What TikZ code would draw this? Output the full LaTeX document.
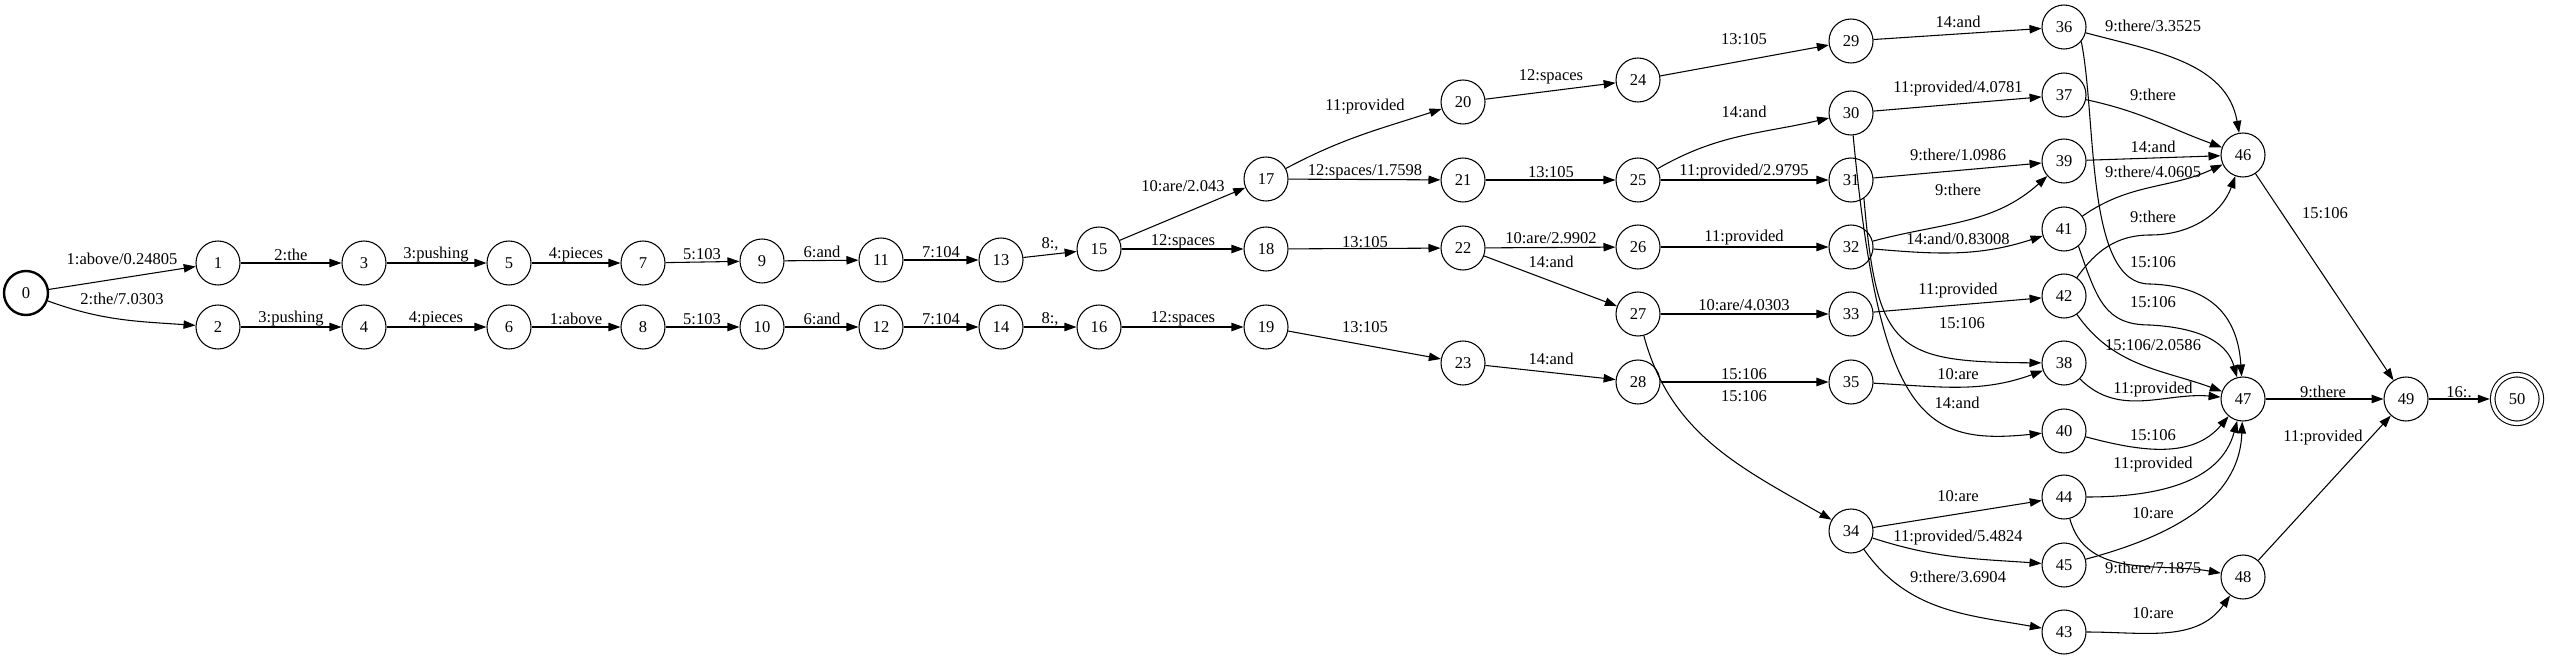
\documentclass[tikz,border=0pt]{standalone}
\usepackage{fontspec}
\setmainfont{Liberation Serif}
\usetikzlibrary{arrows.meta}
\begin{document}
\begin{tikzpicture}[x=0.75pt,y=-0.75pt,
  st/.style={circle,draw,line width=0.8pt,minimum size=33pt,inner sep=0pt,font=\fontsize{12.4}{14}\selectfont},
  e/.style={line width=0.8pt,-{Triangle[length=9pt,width=6.3pt]}},
  lbl/.style={font=\fontsize{12.4}{14}\selectfont,inner sep=0pt}]
\useasboundingbox (0,0) rectangle (2550,660);
% states
\node[st,line width=1.8pt] (0) at (26,293) {0};
\node[st] (1) at (218,263) {1};
\node[st] (2) at (218,327) {2};
\node[st] (3) at (364,263) {3};
\node[st] (4) at (364,327) {4};
\node[st] (5) at (509,263) {5};
\node[st] (6) at (509,327) {6};
\node[st] (7) at (643,263) {7};
\node[st] (8) at (643,327) {8};
\node[st] (9) at (762,261) {9};
\node[st] (10) at (762,327) {10};
\node[st] (11) at (881,260) {11};
\node[st] (12) at (881,327) {12};
\node[st] (13) at (1001,260) {13};
\node[st] (14) at (1001,327) {14};
\node[st] (15) at (1099,249) {15};
\node[st] (16) at (1099,327) {16};
\node[st] (17) at (1266,179) {17};
\node[st] (18) at (1266,249) {18};
\node[st] (19) at (1266,327) {19};
\node[st] (20) at (1463,102) {20};
\node[st] (21) at (1463,180) {21};
\node[st] (22) at (1463,248) {22};
\node[st] (23) at (1463,363) {23};
\node[st] (24) at (1638,80) {24};
\node[st] (25) at (1638,180) {25};
\node[st] (26) at (1638,247) {26};
\node[st] (27) at (1638,314) {27};
\node[st] (28) at (1638,382) {28};
\node[st] (29) at (1851,41) {29};
\node[st] (30) at (1851,113) {30};
\node[st] (31) at (1851,180) {31};
\node[st] (32) at (1851,247) {32};
\node[st] (33) at (1851,314) {33};
\node[st] (35) at (1851,382) {35};
\node[st] (34) at (1851,531) {34};
\node[st] (36) at (2064,27) {36};
\node[st] (37) at (2064,95) {37};
\node[st] (39) at (2064,161) {39};
\node[st] (41) at (2064,229) {41};
\node[st] (42) at (2064,296) {42};
\node[st] (38) at (2064,363) {38};
\node[st] (40) at (2064,431) {40};
\node[st] (44) at (2064,497) {44};
\node[st] (45) at (2064,565) {45};
\node[st] (43) at (2064,632) {43};
\node[st] (46) at (2243,155) {46};
\node[st] (47) at (2243,399) {47};
\node[st] (48) at (2243,577) {48};
\node[st] (49) at (2406,399) {49};
\node[st,minimum size=36.5pt,double,double distance=2.6pt,outer sep=2.2pt] (50) at (2517,399) {50};
% transitions
\draw[e] (0) -- (1) node[lbl,at={(122,259)}]{1:above/0.24805};
\draw[e] (0) to[out=-20,in=176] (2) node[lbl,at={(122,299)}]{2:the/7.0303};
\draw[e] (1) -- (3) node[lbl,at={(291,255)}]{2:the};
\draw[e] (3) -- (5) node[lbl,at={(436,255)}]{3:pushing};
\draw[e] (5) -- (7) node[lbl,at={(576,255)}]{4:pieces};
\draw[e] (7) -- (9) node[lbl,at={(702,254)}]{5:103};
\draw[e] (9) -- (11) node[lbl,at={(822,252)}]{6:and};
\draw[e] (11) -- (13) node[lbl,at={(941,252)}]{7:104};
\draw[e] (13) -- (15) node[lbl,at={(1050,244)}]{8:,};
\draw[e] (2) -- (4) node[lbl,at={(291,319)}]{3:pushing};
\draw[e] (4) -- (6) node[lbl,at={(436,319)}]{4:pieces};
\draw[e] (6) -- (8) node[lbl,at={(576,319)}]{1:above};
\draw[e] (8) -- (10) node[lbl,at={(702,319)}]{5:103};
\draw[e] (10) -- (12) node[lbl,at={(822,319)}]{6:and};
\draw[e] (12) -- (14) node[lbl,at={(941,319)}]{7:104};
\draw[e] (14) -- (16) node[lbl,at={(1050,319)}]{8:,};
\draw[e] (15) -- (17) node[lbl,at={(1183,186)}]{10:are/2.043};
\draw[e] (15) -- (18) node[lbl,at={(1183,242)}]{12:spaces};
\draw[e] (16) -- (19) node[lbl,at={(1183,319)}]{12:spaces};
\draw[e] (17) to[out=28,in=-162] (20) node[lbl,at={(1365,107)}]{11:provided};
\draw[e] (17) -- (21) node[lbl,at={(1365,172)}]{12:spaces/1.7598};
\draw[e] (18) -- (22) node[lbl,at={(1365,242)}]{13:105};
\draw[e] (19) -- (23) node[lbl,at={(1365,327)}]{13:105};
\draw[e] (20) -- (24) node[lbl,at={(1551,77)}]{12:spaces};
\draw[e] (21) -- (25) node[lbl,at={(1551,172)}]{13:105};
\draw[e] (22) -- (26) node[lbl,at={(1551,238)}]{10:are/2.9902};
\draw[e] (22) -- (27) node[lbl,at={(1551,262)}]{14:and};
\draw[e] (23) -- (28) node[lbl,at={(1551,359)}]{14:and};
\draw[e] (24) -- (29) node[lbl,at={(1744,39)}]{13:105};
\draw[e] (25) to[out=30,in=-167] (30) node[lbl,at={(1744,112)}]{14:and};
\draw[e] (25) -- (31) node[lbl,at={(1744,172)}]{11:provided/2.9795};
\draw[e] (26) -- (32) node[lbl,at={(1744,238)}]{11:provided};
\draw[e] (27) -- (33) node[lbl,at={(1744,305)}]{10:are/4.0303};
\draw[e] (28) -- (35) node[lbl,at={(1744,374)}]{15:106};
\draw[e] (27) to[out=-75,in=150] (34) node[lbl,at={(1744,396)}]{15:106};
\draw[e] (29) -- (36) node[lbl,at={(1958,22)}]{14:and};
\draw[e] (30) -- (37) node[lbl,at={(1958,89)}]{11:provided/4.0781};
\draw[e] (31) -- (39) node[lbl,at={(1958,155)}]{9:there/1.0986};
\draw[e] (32) to[out=15,in=-138] (39) node[lbl,at={(1958,190)}]{9:there};
\draw[e] (32) to[out=-5,in=-162] (41) node[lbl,at={(1958,239)}]{14:and/0.83008};
\draw[e] (33) -- (42) node[lbl,at={(1958,291)}]{11:provided};
\draw[e] (31.-55) .. controls (1877,350) and (1895,362) .. (38) node[lbl,at={(1962,323)}]{15:106};
\draw[e] (30) .. controls (1880,420) and (1925,445) .. (40) node[lbl,at={(1957,403)}]{14:and};
\draw[e] (35) to[out=-3,in=-160] (38) node[lbl,at={(1958,374)}]{10:are};
\draw[e] (34) -- (44) node[lbl,at={(1958,496)}]{10:are};
\draw[e] (34) to[out=-18,in=176] (45) node[lbl,at={(1958,538)}]{11:provided/5.4824};
\draw[e] (34) to[out=-55,in=170] (43) node[lbl,at={(1958,577)}]{9:there/3.6904};
\draw[e] (36) to[out=-15,in=100] (46) node[lbl,at={(2153,26)}]{9:there/3.3525};
\draw[e] (37) to[out=-12,in=160] (46) node[lbl,at={(2153,95)}]{9:there};
\draw[e] (39) -- (46) node[lbl,at={(2153,147)}]{14:and};
\draw[e] (41) to[out=35,in=-155] (46) node[lbl,at={(2153,172)}]{9:there/4.0605};
\draw[e] (42) to[out=55,in=180] (2150,235) to[out=0,in=-110] (46) node[lbl,at={(2153,217)}]{9:there};
\draw[e] (36.-40) .. controls (2097,120) and (2085,285) .. (2150,284) .. controls (2215,286) and (2238,320) .. (47) node[lbl,at={(2153,262)}]{15:106};
\draw[e] (41.-50) .. controls (2097,300) and (2105,325) .. (2150,325) .. controls (2205,328) and (2228,345) .. (47) node[lbl,at={(2153,302)}]{15:106};
\draw[e] (42) to[out=-55,in=160] (47) node[lbl,at={(2153,345)}]{15:106/2.0586};
\draw[e] (38) to[out=-45,in=175] (47) node[lbl,at={(2153,390)}]{11:provided};
\draw[e] (40) to[out=-15,in=-130] (47) node[lbl,at={(2153,435)}]{15:106};
\draw[e] (44) to[out=0,in=-105] (47) node[lbl,at={(2153,465)}]{11:provided};
\draw[e] (45) to[out=15,in=-92] (47) node[lbl,at={(2153,513)}]{10:are};
\draw[e] (44) to[out=-75,in=170] (48) node[lbl,at={(2153,568)}]{9:there/7.1875};
\draw[e] (43) to[out=0,in=-125] (48) node[lbl,at={(2153,613)}]{10:are};
\draw[e] (46) -- (49) node[lbl,at={(2325,213)}]{15:106};
\draw[e] (47) -- (49) node[lbl,at={(2323,392)}]{9:there};
\draw[e] (48) -- (49) node[lbl,at={(2323,438)}]{11:provided};
\draw[e] (49) -- (50) node[lbl,at={(2459,392)}]{16:.};
\end{tikzpicture}
\end{document}
